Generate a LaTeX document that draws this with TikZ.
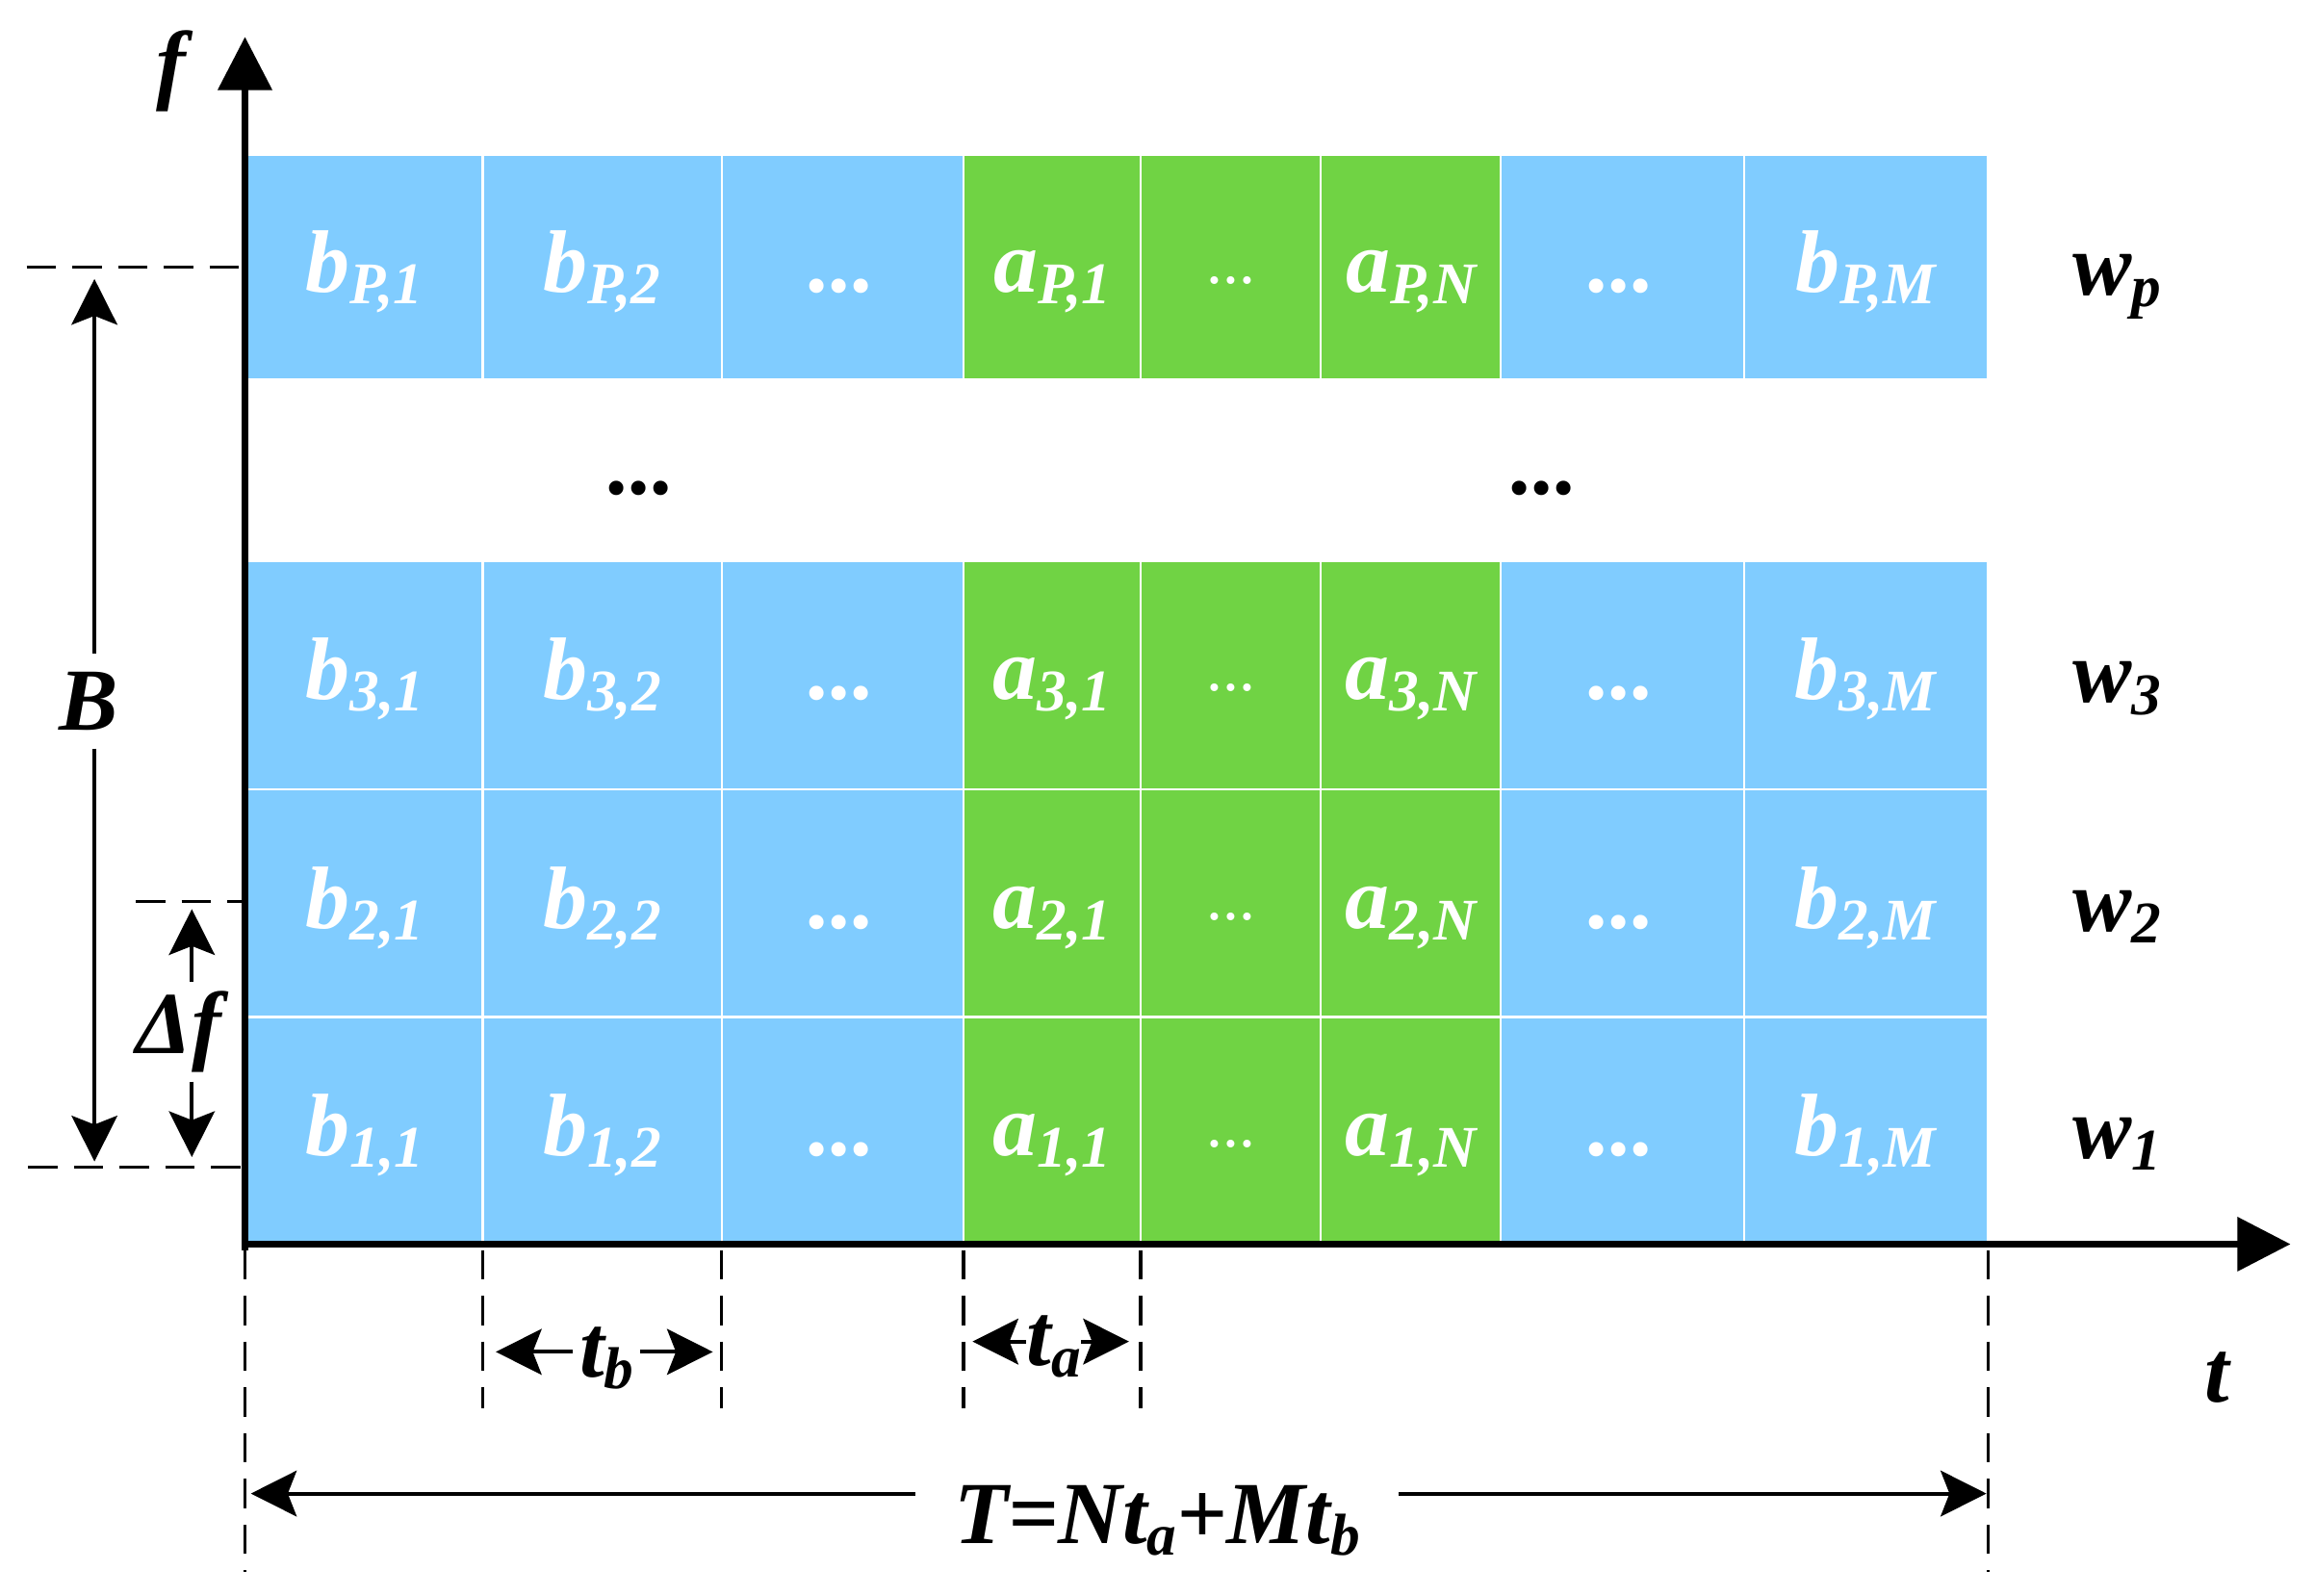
\documentclass[tikz,border=0pt]{standalone}
\usepackage{fontspec}
\setmainfont{Liberation Serif}
\usetikzlibrary{arrows.meta}
\definecolor{cellblue}{RGB}{128,204,255}
\definecolor{cellgreen}{RGB}{112,211,68}
\newcommand\lbl[2]{#1\raisebox{-4pt}{\fontsize{20}{24}\selectfont #2}}
\tikzset{
  cell/.style={draw=white, line width=0.8pt},
  celltxt/.style={text=white, font=\fontsize{30}{36}\selectfont\bfseries\itshape, anchor=base, inner sep=0pt},
  gdots/.style={text=white, font=\fontsize{22}{26}\selectfont, anchor=base, inner sep=0pt},
  blk/.style={text=black, font=\fontsize{30}{36}\selectfont\bfseries\itshape, inner sep=0pt},
  axis/.style={line width=2.2pt, -{Triangle[length=18pt,width=18pt]}},
  dimarr/.style={line width=1.3pt, -{Stealth[length=15.5pt,width=15.5pt,inset=3pt]}},
  guide/.style={line width=1.1pt, dash pattern=on 10pt off 5.5pt},
}
\begin{document}
\begin{tikzpicture}[x=0.5pt, y=-0.5pt]
\useasboundingbox (0,0) rectangle (1568,1081);
% cells
\foreach \r/\ya/\yb/\bl in {P/105/257/198, 3/380/535/474, 2/535/689/629, 1/689/843/783}{
  \foreach \xa/\xb/\c in {166/327/cellblue,327/489/cellblue,489/653/cellblue,653/773/cellgreen,773/895/cellgreen,895/1017/cellgreen,1017/1182/cellblue,1182/1347/cellblue}
    \draw[cell, fill=\c] (\xa,\ya) rectangle (\xb,\yb);
  \node[celltxt] (b\r1) at (247,\bl) {\lbl{b}{\r,1}};
  \node[celltxt] (b\r2) at (408,\bl) {\lbl{b}{\r,2}};
  \node[celltxt] (d\r1) at (571,\bl) {...};
  \node[celltxt] (a\r1) at (713,\bl) {\lbl{a}{\r,1}};
  \node[gdots] (g\r) at (834,\bl-6) {...};
  \node[celltxt] (a\r N) at (956,\bl) {\lbl{a}{\r,N}};
  \node[celltxt] (d\r2) at (1099,\bl) {...};
  \node[celltxt] (b\r M) at (1264,\bl) {\lbl{b}{\r,M}};
}
% row labels
\node[blk, anchor=base west] (wP) at (1404,200) {\lbl{w}{p}};
\node[blk, anchor=base west] (w3) at (1404,476) {\lbl{w}{3}};
\node[blk, anchor=base west] (w2) at (1404,631) {\lbl{w}{2}};
\node[blk, anchor=base west] (w1) at (1404,785) {\lbl{w}{1}};
% gap dots
\node[blk, anchor=base] (gap1) at (435,335) {...};
\node[blk, anchor=base] (gap2) at (1047,335) {...};
% axes
\coordinate (ybot) at (166,847);
\coordinate (ytop) at (166,25);
\coordinate (xbeg) at (164,843);
\coordinate (xend) at (1552,843);
\draw[axis] (ybot) -- (ytop);
\draw[axis] (xbeg) -- (xend);
\node[blk] (flab) at (116,48) {f};
\node[blk, anchor=base] (tlab) at (1502,950) {t};
% left guides
\coordinate (g1a) at (18,181);  \coordinate (g1b) at (164,181);
\coordinate (g2a) at (92,611);  \coordinate (g2b) at (164,611);
\coordinate (g3a) at (19,791);  \coordinate (g3b) at (164,791);
\draw[guide] (g1a) -- (g1b);
\draw[guide] (g2a) -- (g2b);
\draw[guide] (g3a) -- (g3b);
% B
\node[blk, inner ysep=6pt] (B) at (60,475) {B};
\coordinate (Btop) at (64,189);
\coordinate (Bbot) at (64,787);
\draw[dimarr] (B.north -| Btop) -- (Btop);
\draw[dimarr] (B.south -| Bbot) -- (Bbot);
% Delta f
\node[blk, inner ysep=3pt] (df) at (121,699) {Δf};
\coordinate (dfTop) at (130,616);
\coordinate (dfBot) at (130,784);
\draw[dimarr] (df.north -| dfTop) -- (dfTop);
\draw[dimarr] (df.south -| dfBot) -- (dfBot);
% bottom guides
\foreach \x/\ye in {166/1065, 327/954, 489/954, 653/954, 773/954, 1347/1065}
  \draw[guide] (\x,847) -- (\x,\ye);
% t_b
\node[blk, anchor=base, inner xsep=2pt] (tb) at (411,933) {\lbl{t}{b}};
\coordinate (tbL) at (336,916);
\coordinate (tbR) at (483,916);
\draw[dimarr] (tb.west |- tbL) -- (tbL);
\draw[dimarr] (tb.east |- tbR) -- (tbR);
% t_a
\node[blk, anchor=base] (ta) at (714,925) {\lbl{t}{a}};
\coordinate (taL) at (659,909);
\coordinate (taR) at (765,909);
\draw[dimarr] (ta.west |- taL) -- (taL);
\draw[dimarr] (ta.east |- taR) -- (taR);
% T
\node[blk, anchor=base, inner xsep=13pt] (T) at (784,1046) {T=N\lbl{t}{a}+M\lbl{t}{b}};
\coordinate (TL) at (170,1012);
\coordinate (TR) at (1346,1012);
\draw[dimarr] (T.west |- TL) -- (TL);
\draw[dimarr] (T.east |- TR) -- (TR);
\end{tikzpicture}
\end{document}
